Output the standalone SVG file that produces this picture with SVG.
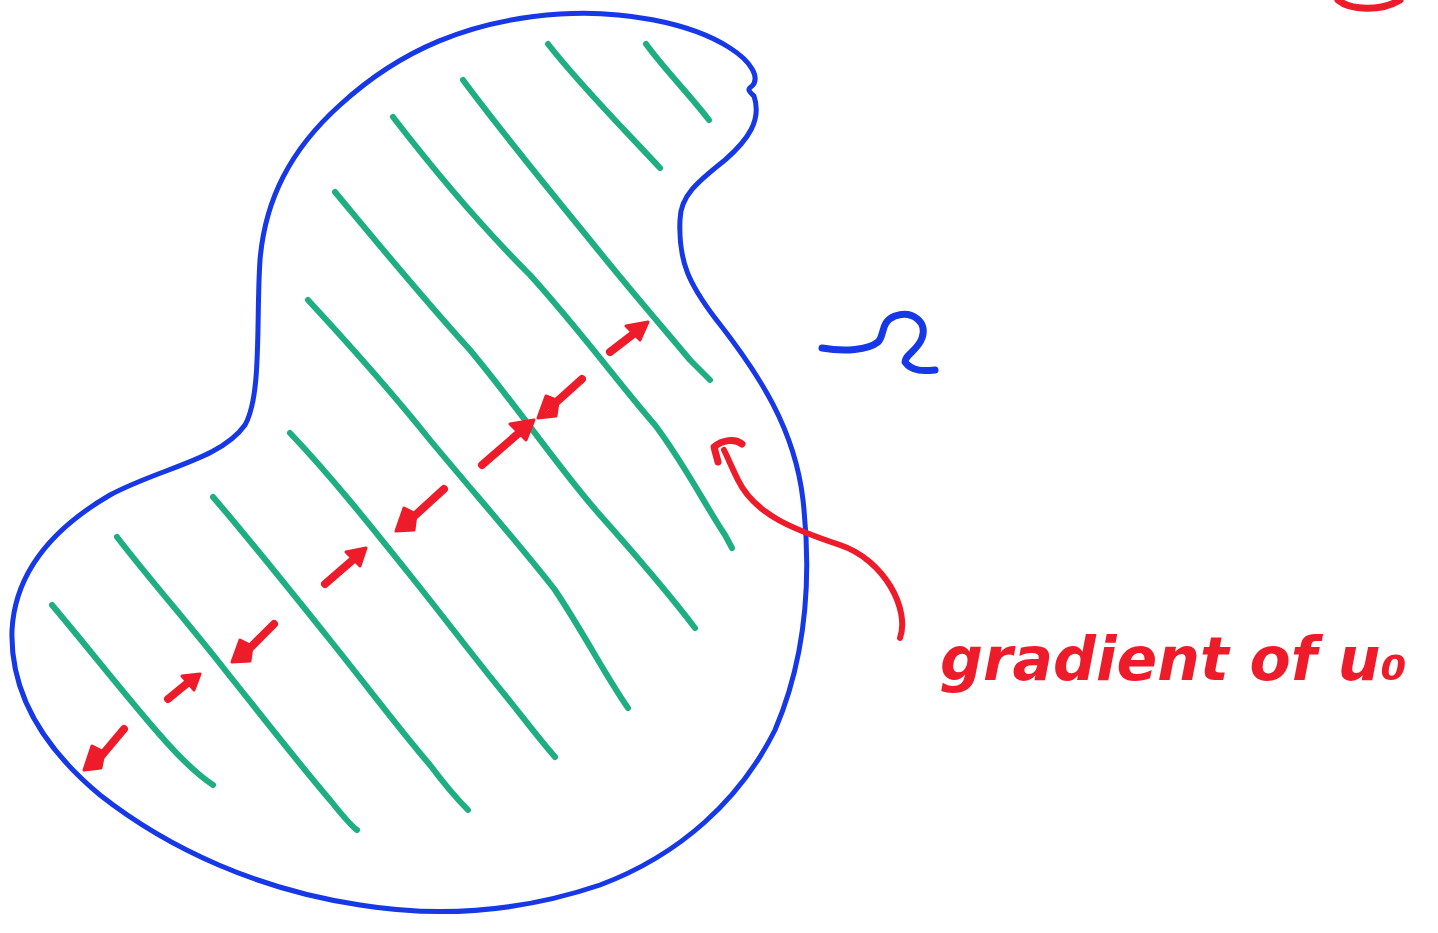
<svg xmlns="http://www.w3.org/2000/svg" width="1438" height="933" viewBox="0 0 1438 933">
<style>
.blue{fill:none;stroke:#1638e6;stroke-width:5;stroke-linecap:round;stroke-linejoin:round}
.green{fill:none;stroke:#1fae82;stroke-width:6;stroke-linecap:round;stroke-linejoin:round}
.red{fill:none;stroke:#ee1c2a;stroke-width:8;stroke-linecap:round;stroke-linejoin:round}
.redhead{fill:#ee1c2a;stroke:#ee1c2a;stroke-width:3;stroke-linejoin:round}
.lbl{fill:#ee1c2a;font-family:"DejaVu Sans",sans-serif;font-style:italic;font-weight:bold}
</style>
<rect width="1438" height="933" fill="#ffffff"/>
<g id="domain">
<path class="blue" d="M560,14 C620,10 690,22 730,48 C752,62 760,78 752,86 C746,90 750,92 754,96 C762,120 748,140 725,160 C700,180 680,195 680,220 C678,262 690,285 715,318 C760,375 795,430 803,500 C812,580 805,660 775,730 C740,800 680,855 600,885 C520,912 440,918 360,905 C260,890 170,850 100,795 C40,745 10,690 12,630 C15,575 50,530 110,495 C160,468 220,460 245,425 C262,395 256,320 260,260 C265,200 290,150 340,105 C400,50 470,20 560,14 Z"/>
</g>
<g id="level-lines">
<path class="green" d="M646,44 C665,70 690,95 709,120"/>
<path class="green" d="M548,44 C580,85 620,125 660,168"/>
<path class="green" d="M463,80 C500,130 545,185 590,240 C630,290 665,330 690,360 L710,380"/>
<path class="green" d="M393,117 C430,165 480,225 530,275 C580,330 620,385 655,425 C685,465 705,505 725,535 L732,548"/>
<path class="green" d="M335,192 C375,240 420,295 470,350 C520,410 560,470 600,515 C640,560 670,595 695,628"/>
<path class="green" d="M308,300 C345,340 390,390 430,440 C480,500 520,545 555,590 C585,635 605,675 628,708"/>
<path class="green" d="M290,433 C330,475 370,525 410,575 C450,625 480,665 505,695 C525,720 540,740 555,757"/>
<path class="green" d="M213,497 C250,540 290,590 330,640 C370,690 400,730 430,765 C445,785 458,800 468,810"/>
<path class="green" d="M117,537 C150,580 190,625 225,670 C265,720 300,765 330,800 C342,815 350,825 357,830"/>
<path class="green" d="M52,605 C90,650 125,695 160,735 C180,758 198,775 213,785"/>
</g>
<g id="gradient-arrows">
<path class="red" d="M124,729 L98,760"/><path class="redhead" d="M84,770 L104,752 L92,746 Z M84,770 L101,768 L104,752"/>
<path class="red" d="M168,699 L190,681"/><path class="redhead" d="M200,674 L182,676 L194,690 Z"/>
<path class="red" d="M274,624 L246,652"/><path class="redhead" d="M232,662 L252,646 L240,640 Z M232,662 L250,661 L252,646"/>
<path class="red" d="M325,584 L355,558"/><path class="redhead" d="M366,548 L346,552 L360,566 Z"/>
<path class="red" d="M444,489 L410,520"/><path class="redhead" d="M396,531 L416,514 L404,508 Z M396,531 L414,530 L416,514"/>
<path class="red" d="M482,465 L520,432"/><path class="redhead" d="M534,420 L510,424 L526,440 Z"/>
<path class="red" d="M582,379 L552,406"/><path class="redhead" d="M538,418 L556,400 L546,396 Z M538,418 L556,416 L558,402"/>
<path class="red" d="M610,352 L636,332"/><path class="redhead" d="M648,322 L626,326 L640,340 Z"/>
</g>
<g id="omega-label">
<path class="blue" style="stroke-width:7" d="M822,348 C845,352 868,350 878,342 C885,335 880,322 895,316 C912,310 928,322 922,338 C918,350 905,355 905,362 C912,372 925,371 935,370"/>
</g>
<g id="pointer-arrow">
<path class="red" style="stroke-width:6" d="M900,638 C910,610 885,560 840,545 C795,530 755,515 738,480 C732,468 728,458 724,450"/>
<path class="red" style="stroke-width:7" d="M718,462 L714,447 C722,440 735,438 742,444"/>
</g>
<g id="gradient-label">
<text class="lbl" x="940" y="680" font-size="60">gradient of u₀</text>
</g>
<g id="corner-mark">
<path class="red" style="stroke-width:7" d="M1338,0 C1350,10 1380,12 1400,0"/>
</g>
</svg>
